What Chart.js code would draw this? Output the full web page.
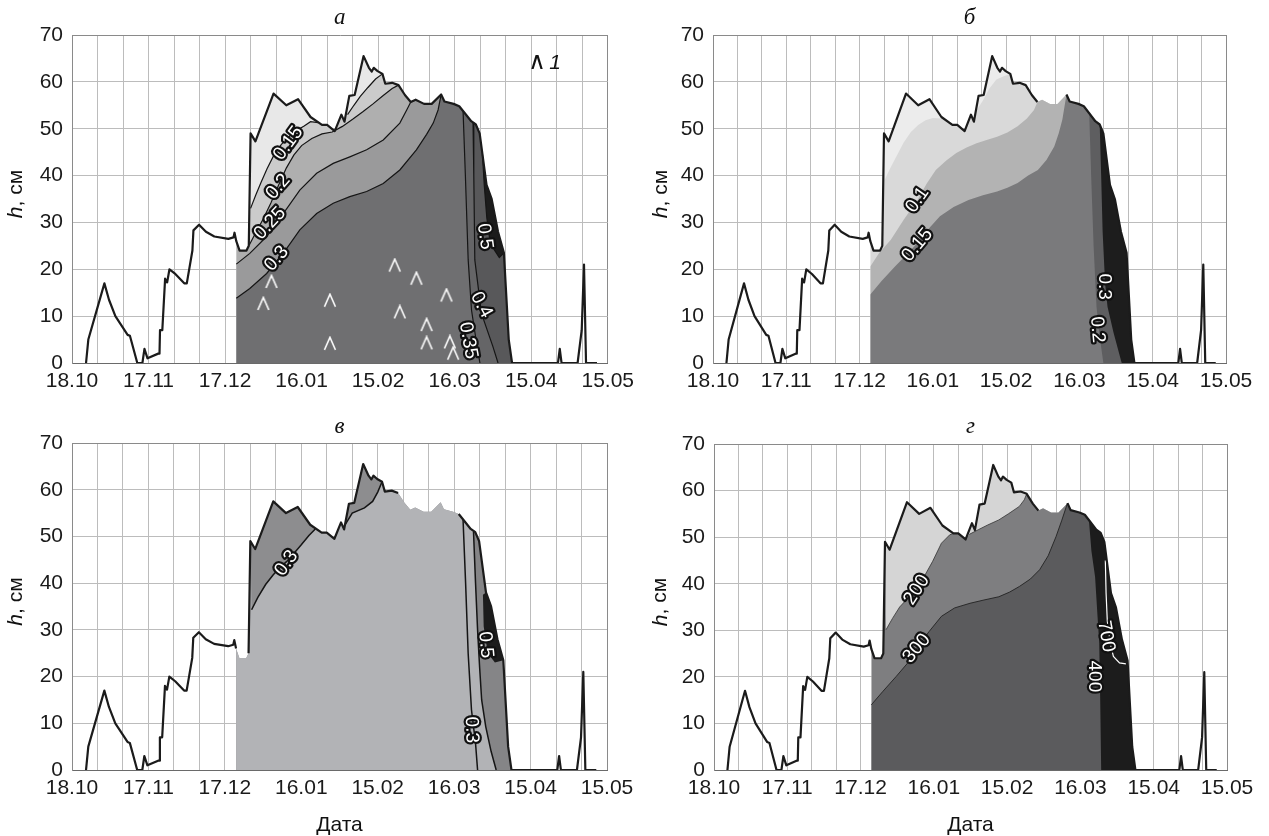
<!DOCTYPE html>
<html>
<head>
<meta charset="utf-8">
<script src="https://cdn.jsdelivr.net/npm/chart.js@4.4.0/dist/chart.umd.min.js"></script>
<style>
  body { margin: 0; background: #fff; width: 1269px; height: 836px; position: relative; overflow: hidden; }
  canvas { position: absolute; }
</style>
</head>
<body>
<canvas id="ga" width="640" height="410" style="left:0;top:0"></canvas>
<canvas id="gb" width="629" height="410" style="left:640px;top:0"></canvas>
<canvas id="gc" width="640" height="426" style="left:0;top:410px"></canvas>
<canvas id="gd" width="629" height="426" style="left:640px;top:410px"></canvas>
<script>
// x = days since 18.10, y = snow depth, cm
const dateLabels = ['18.10', '17.11', '17.12', '16.01', '15.02', '16.03', '15.04', '15.05'];

const snowDay = [5.5, 6.4, 12.7, 14.5, 17, 21.8, 22.7, 25.6, 27.6, 28.4, 29.6, 33.8, 34.3, 34.5, 35.4, 36.5, 37.3, 38.2, 40.5, 44, 45,
  47.2, 47.6, 49.8, 52.5, 55.8, 61.3, 63.3, 63.7, 64.4, 65.7, 68.4, 69.3, 70, 71.9, 79, 84, 88.6, 93.5, 98, 100, 103, 105.6, 106.8,
  108.7, 110.8, 114.3, 116.4, 117.5, 118.3, 119.8, 121.7, 122.8, 125.5, 128, 130.5, 132.8, 134.7, 138, 141, 144.7, 146, 149.6,
  151.8, 154, 156.5, 158.3, 159.8, 162.5, 164.5, 167, 169.3, 171.2, 172.5, 190.5, 191.2, 191.9, 198.2, 199.8, 200.7, 201.5, 205.8];
const snowH = [0, 5, 17, 13.5, 10, 6, 5.8, 0, 0, 3, 1, 2, 2, 7, 7, 18, 17.2, 20, 19, 17, 17,
  24, 28.3, 29.5, 28, 27, 26.5, 26.8, 27.8, 26, 24, 24, 25, 49, 47.3, 57.5, 55, 56.3, 52.5, 50.8, 50.8, 49.5, 53, 51.5,
  57, 57.2, 65.5, 63, 62.2, 63, 62.3, 61.7, 59.6, 59.8, 59.3, 57.2, 55.7, 56.2, 55.3, 55.3, 57.3, 55.8, 55.3,
  54.8, 53.3, 51.6, 50.9, 49, 38, 35, 28, 23.5, 5, 0, 0, 3, 0, 0, 7, 21, 0, 0];

// panel а: density isolines, g/cm3
const a015a = [[70, 33], [72, 35.8], [74, 38.4], [76.5, 41.5], [79, 44.2], [82, 46.6], [85, 48.3], [88, 49.6], [91, 50.6], [93.5, 51.5], [96.5, 51.3]];
const a015b = [[108, 53], [110.5, 55], [113, 56.9], [116, 58.8], [119, 60.6], [121.7, 61.7]];
const a02 = [[69.5, 25.2], [72, 27.8], [75, 30.8], [78, 34.2], [81, 38], [84, 41.6], [87, 44.4], [90, 46.4], [94, 47.9], [98, 48.9],
  [102, 49.3], [106, 50.5], [110, 52], [114, 53.6], [118, 55.3], [122, 57.1], [125.5, 58.6], [128, 59.3]];
const a025 = [[64.4, 21.1], [69.7, 23.4], [76.3, 27], [82.8, 31.9], [89.3, 36.9], [95.9, 40.5], [102.4, 42.6], [108.9, 44],
  [115.5, 45.5], [122, 47.6], [128.5, 51.2], [131.2, 54], [132.8, 55.7]];
const a03 = [[64.4, 13.8], [69.7, 15.9], [76.3, 19.1], [82.8, 23.4], [89.3, 28.4], [95.9, 31.9], [102.4, 34.1], [108.9, 35.5],
  [115.5, 36.6], [122, 38.3], [128.5, 41.2], [135, 45.5], [139, 48.8], [141.6, 51.2], [143.5, 54], [144.7, 57.3]];
const a035 = [[153.3, 53.7], [154.2, 40], [155.3, 22], [156.6, 11.3], [158.6, 4.2], [159.9, 0]];
const a04 = [[157.2, 51.3], [157.5, 40], [157.9, 22], [160.5, 10.6], [165, 3.5], [167, 0]];
const a05 = [[160.9, 44.5], [161.6, 38], [162.6, 31], [163.8, 26.2], [165.5, 24.2], [167.5, 22.5], [169.3, 23.5]];
const aMarks = [[75, 12.7], [78.2, 17.4], [101.1, 13.4], [101.1, 4.2], [126.5, 20.9], [128.5, 10.9], [135, 18.1],
  [139, 8.2], [139, 4.3], [146.8, 14.5], [148.1, 4.5], [149.4, 2.1]];
const aLabels = [['0.15', 84.8, 46.9, -54], ['0.2', 80.8, 37.6, -49], ['0.25', 77.6, 29.8, -47], ['0.3', 80.2, 22.3, -49],
  ['0.5', 161.8, 27, 82], ['0.4', 160.5, 12.4, 62], ['0.35', 155.3, 4.8, 80]];

// panel б
const b005a = [[70.2, 39], [72.5, 41.5], [75, 44], [78, 47], [81, 49.3], [84, 50.8], [87, 51.8], [90, 52.3], [93.5, 52.2], [96.5, 51.3]];
const b005b = [[108, 54], [110.5, 56], [113, 58.5], [116, 60.5], [119, 61.2], [121.7, 61.7]];
const b01 = [[64.4, 20.6], [68, 23.5], [72.8, 26.3], [78, 30.5], [83.7, 34.8], [87.5, 38.3], [91.2, 41.2], [95.5, 43.2], [99.6, 44.8],
  [103.8, 46], [107.9, 46.9], [112, 47.6], [116.3, 48.3], [120.5, 49.2], [124.7, 50.5], [128.5, 52.2], [131.4, 54], [132.8, 55.7]];
const b015 = [[64.4, 14.6], [69, 17.5], [74.5, 20.6], [79, 23], [83.7, 25.6], [88, 28.5], [92.9, 31.3], [98.5, 33.3], [104.6, 34.8],
  [110.5, 35.8], [116.3, 36.6], [120.5, 37.4], [124.7, 38.4], [129, 40], [133, 41.2], [136.5, 43.3], [139.7, 46.2], [141.5, 49],
  [143, 51.9], [144.7, 57.3]];
const b02 = [[154, 53.3], [154.8, 40], [155.8, 25], [157, 12], [158.1, 6.4], [159.8, 0]];
const b03 = [[158.3, 50.9], [158.9, 40], [159.5, 28], [160.5, 17], [161.5, 12], [164, 6.4], [167.3, 0]];
const bLabels = [['0.1', 83.7, 34.8, -55], ['0.15', 83.7, 25.2, -50], ['0.3', 160.3, 16.3, 90], ['0.2', 157.3, 7.1, 85]];

// panel в
const c03a = [[70.5, 34.3], [73, 37], [76, 39.7], [79, 41.8], [82, 43.5], [84.2, 44.6], [87, 46.3], [90, 48.2], [93, 50.2], [95.5, 51.6]];
const c03b = [[107.3, 52.6], [110, 55], [114.8, 56.1], [118, 57.5], [120, 59.5], [121.7, 61.7]];
const c1 = [[153.5, 53.5], [154.5, 40], [155.5, 25], [156.8, 12.9], [158.4, 5.7], [159.2, 0]];
const c2 = [[157.6, 51], [158.4, 40], [159.2, 30], [160, 22], [160.8, 15], [162.4, 9.3], [164.5, 4], [166.5, 0]];
const c05 = [[161.3, 37.5], [161.6, 30.7], [163.2, 25], [166, 23], [169.3, 23.5]];
const cLabels = [['0.3', 84.2, 44.3, -55], ['0.5', 162.4, 26.8, 85], ['0.3', 156.8, 8.6, 88]];

// panel г
const d200a = [[70.4, 30.1], [73, 32.5], [76, 35], [79, 36.7], [83, 38.7], [86, 41.5], [89.5, 44.8], [93.1, 48.7], [96.5, 50.5], [98, 50.8]];
const d200b = [[104.5, 50.6], [108.2, 51.6], [112, 52.6], [116.6, 53.7], [120.5, 55], [125, 56.6], [127, 58], [128, 59.3]];
const d300 = [[64.4, 14], [69, 16.8], [74.6, 20.1], [79, 22.8], [83, 26.1], [88, 29.7], [93.1, 33], [98.5, 34.8], [104.8, 35.8],
  [110.5, 36.5], [116.6, 37.2], [121, 38.2], [125, 39.4], [129.5, 41], [133.3, 43], [136.8, 46], [140, 50.1], [142.3, 53.5], [144.7, 57.3]];
const d400 = [[153.5, 53.5], [154.5, 47], [156, 41.5], [157, 33], [157.7, 27.2], [158.1, 15], [158.5, 0]];
const d700 = [[160.2, 45], [160.5, 38], [161, 32], [162.2, 27.2], [163.5, 24.4], [166, 23], [168.6, 22.8]];
const dLabels = [['200', 83, 38.7, -57], ['300', 83, 26.1, -50], ['700', 160.5, 28.7, 80], ['400', 155.5, 20.1, 90]];

const SANS = "'Liberation Sans', Arial, sans-serif";

function xy(arr) { return arr.map(p => ({x: p[0], y: p[1]})); }
function snowPts(from, to) {
  const out = [];
  snowDay.forEach((d, i) => { if (d > from && d < to) out.push({x: d, y: snowH[i]}); });
  return out;
}
// isoline pieces joined along the snow surface
function edge(...segs) {
  let out = [], x0 = 64.3;
  for (const s of segs) {
    out = out.concat(snowPts(x0, s[0][0]), xy(s));
    x0 = s[s.length - 1][0];
  }
  return out.concat(snowPts(x0, 173));
}
// region between a near-vertical isoline and the snow surface
function rightOf(c) {
  const a = c[0][0], l = c[c.length - 1];
  const b = l[1] === 0 ? 173 : l[0];
  return xy(c).concat(snowPts(a, b).reverse());
}
function area(pts, color, fill) {
  return {data: pts, backgroundColor: color, borderWidth: 0, fill: fill || 'origin'};
}
function iso(pts, color, w) {
  return {data: xy(pts), borderColor: color || '#151515', borderWidth: w || 1.2, fill: false};
}
function snowLine(hidden) {
  return {
    data: snowPts(0, 999), borderColor: '#1b1b1b', borderWidth: 2.2, fill: false, borderJoinStyle: 'round',
    segment: {
      borderColor: c => hidden.some(r => c.p0.parsed.x >= r[0] && c.p1.parsed.x <= r[1]) ? 'rgba(0,0,0,0)' : '#1b1b1b'
    }
  };
}
function chevron(color) {
  const c = document.createElement('canvas');
  c.width = 14; c.height = 15;
  const g = c.getContext('2d');
  g.strokeStyle = color; g.lineWidth = 1.6;
  g.beginPath(); g.moveTo(1.5, 14); g.lineTo(7, 1.5); g.lineTo(12.5, 14); g.stroke();
  return c;
}

function deco(cfg) {
  return {
    id: 'deco',
    afterDatasetsDraw(chart) {
      const {ctx, scales: {x, y}} = chart;
      ctx.save();
      ctx.font = '19px ' + SANS;
      ctx.textAlign = 'center';
      ctx.textBaseline = 'middle';
      ctx.lineJoin = 'round';
      for (const [t, d, h, ang] of cfg.labels) {
        ctx.save();
        ctx.translate(x.getPixelForValue(d), y.getPixelForValue(h));
        ctx.rotate(ang * Math.PI / 180);
        ctx.lineWidth = 4.5;
        ctx.strokeStyle = '#111';
        ctx.strokeText(t, 0, 0);
        ctx.fillStyle = '#fff';
        ctx.fillText(t, 0, 0);
        ctx.restore();
      }
      ctx.restore();
    },
    afterDraw(chart) {
      const {ctx, chartArea: ca} = chart;
      const cx = (ca.left + ca.right) / 2;
      ctx.save();
      ctx.fillStyle = '#111';
      ctx.textBaseline = 'middle';
      ctx.textAlign = 'center';
      ctx.font = "italic 23px 'Liberation Serif', serif";
      ctx.fillText(cfg.title, cx, cfg.titleY);
      if (cfg.xTitle) {
        ctx.font = '21px ' + SANS;
        ctx.fillText('Дата', cx, cfg.xTitleY);
      }
      if (cfg.legend) {
        ctx.font = "24px 'DejaVu Sans'";
        ctx.fillText('∧', cfg.legend[0], cfg.legend[1]);
        ctx.font = 'italic 21px ' + SANS;
        ctx.fillText('1', cfg.legend[0] + 18, cfg.legend[1]);
      }
      // y title with italic h
      ctx.translate(cfg.yTitle[0], (ca.top + ca.bottom) / 2 - 5);
      ctx.rotate(-Math.PI / 2);
      const f1 = 'italic 21px ' + SANS, f2 = '21px ' + SANS;
      ctx.font = f1; const w1 = ctx.measureText('h').width;
      ctx.font = f2; const w2 = ctx.measureText(', см').width;
      const s = -(w1 + w2) / 2;
      ctx.textAlign = 'left';
      ctx.font = f1; ctx.fillText('h', s, 0);
      ctx.font = f2; ctx.fillText(', см', s + w1, 0);
      ctx.restore();
    }
  };
}

function makeChart(id, box, layers, cfg) {
  const n = layers.length;
  layers.forEach((d, i) => { d.order = n - i; d.pointRadius = d.pointRadius || 0; });
  return new Chart(document.getElementById(id), {
    type: 'line',
    data: {datasets: layers},
    plugins: [deco(cfg)],
    options: {
      responsive: false,
      devicePixelRatio: 1,
      animation: false,
      events: [],
      layout: {padding: {top: box.top, right: box.right, left: 0, bottom: 0}},
      elements: {line: {tension: 0}, point: {radius: 0, hitRadius: 0}},
      plugins: {legend: {display: false}, tooltip: {enabled: false}},
      scales: {
        x: {
          type: 'linear', min: 0, max: 210,
          afterFit: s => { s.height = box.xh; },
          border: {display: true, color: '#6a6a6a', width: 1},
          grid: {drawTicks: false, lineWidth: 1,
            color: c => (c.tick && (c.tick.value === 0 || c.tick.value === 210)) ? '#8a8a8a' : '#bcbcbc'},
          ticks: {stepSize: 10, autoSkip: false, maxRotation: 0, minRotation: 0, padding: 6, color: '#1a1a1a',
            font: {family: SANS, size: 21},
            callback: v => v % 30 === 0 ? dateLabels[v / 30] : ''}
        },
        y: {
          min: 0, max: 70,
          afterFit: s => { s.width = box.yw; },
          border: {display: true, color: '#8a8a8a', width: 1},
          grid: {drawTicks: false, lineWidth: 1,
            color: c => (c.tick && c.tick.value === 70) ? '#8a8a8a' : '#bcbcbc'},
          ticks: {stepSize: 10, padding: 9, color: '#1a1a1a', font: {family: SANS, size: 21}}
        }
      }
    }
  });
}

makeChart('ga', {top: 35, right: 32, xh: 47, yw: 72}, [
  area(snowPts(64.3, 173), '#e8e8e8'),
  area(edge(a015a, a015b), '#cbcbcb'),
  area(edge(a02), '#afafaf'),
  area(edge(a025), '#9a9a9b'),
  area(edge(a03), '#6f6f71'),
  area(rightOf(a035), '#656567', 'shape'),
  area(rightOf(a04), '#58585a', 'shape'),
  area(rightOf(a05), '#1c1c1c', 'shape'),
  iso(a015a), iso(a015b), iso(a02), iso(a025), iso(a03), iso(a035), iso(a04), iso(a05),
  snowLine([]),
  {data: xy(aMarks), showLine: false, pointStyle: chevron('#ffffff'), pointRadius: 7}
], {title: 'а', titleY: 18, yTitle: [16], labels: aLabels, legend: [537, 63]});

makeChart('gb', {top: 35, right: 43, xh: 47, yw: 73}, [
  area(snowPts(64.3, 173), '#ececec'),
  area(edge(b005a, b005b), '#d9d9d9'),
  area(edge(b01), '#b3b3b3'),
  area(edge(b015), '#7a7a7c'),
  area(rightOf(b02), '#5e5e60', 'shape'),
  area(rightOf(b03), '#1d1d1d', 'shape'),
  snowLine([[132.8, 144.7]])
], {title: 'б', titleY: 18, yTitle: [21.6], labels: bLabels});

makeChart('gc', {top: 33, right: 33, xh: 66, yw: 72}, [
  area(snowPts(64.3, 173), '#8d8d8f'),
  area(edge(c03a, c03b), '#b2b3b6'),
  area(rightOf(c2), '#858587', 'shape'),
  area(rightOf(c05), '#1c1c1c', 'shape'),
  iso(c03a, '#151515', 1.5), iso(c03b, '#151515', 1.5), iso(c1, '#151515', 1.5), iso(c2, '#151515', 1.5),
  snowLine([[64.4, 69.3], [128, 151.8]])
], {title: 'в', titleY: 17, yTitle: [16.4], labels: cLabels, xTitle: true, xTitleY: 415});

makeChart('gd', {top: 34, right: 42, xh: 66, yw: 74}, [
  area(snowPts(64.3, 173), '#d5d5d5'),
  area(edge(d200a, d200b), '#7e7e80'),
  area(edge(d300), '#5b5b5d'),
  area(rightOf(d400), '#1c1c1c', 'shape'),
  iso(d200a, '#333', 0.8), iso(d200b, '#333', 0.8), iso(d300, '#222', 0.9), iso(d700, '#ffffff', 1.2),
  snowLine([[132.8, 144.7]])
], {title: 'г', titleY: 17, yTitle: [20.7], labels: dLabels, xTitle: true, xTitleY: 415});
</script>
</body>
</html>
